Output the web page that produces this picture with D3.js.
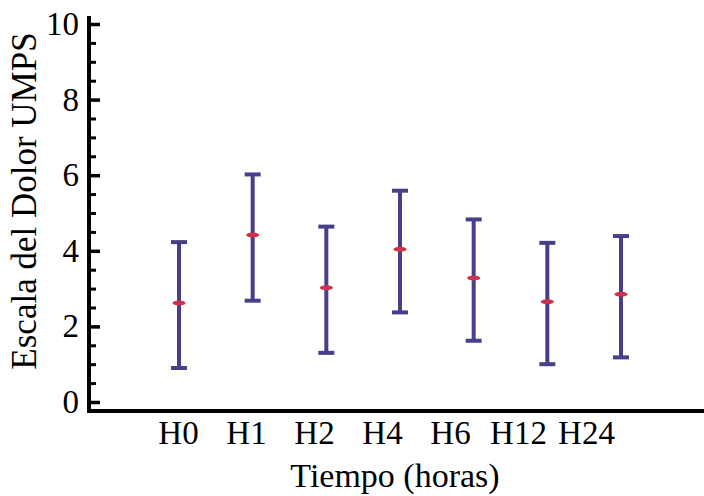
<!DOCTYPE html>
<html lang="es">
<head>
    <meta charset="UTF-8">
    <title>Escala del Dolor UMPS</title>
    <script src="https://d3js.org/d3.v7.min.js"></script>
    <style>
        body {
            margin: 0;
            background: #fff;
        }
        svg {
            display: block;
            font-family: 'Liberation Serif', 'DejaVu Serif', serif;
        }
        .axis path, .axis line {
            stroke: #000;
        }
        .axis text {
            font-family: 'Liberation Serif', 'DejaVu Serif', serif;
            font-size: 33px;
            fill: #000;
        }
    </style>
</head>
<body>
    <svg id="chart" width="704" height="496"></svg>

    <script>
        // Datos
        const tiempos = ['H0', 'H1', 'H2', 'H4', 'H6', 'H12', 'H24'];
        const medias = [2.62, 4.42, 3.02, 4.04, 3.28, 2.65, 2.85];
        const superior = [4.23, 6.02, 4.64, 5.59, 4.83, 4.21, 4.39];
        const inferior = [0.90, 2.68, 1.30, 2.37, 1.62, 1.00, 1.18];
        const yTicks = [0, 2, 4, 6, 8, 10];

        const barColor = '#463f8b';
        const meanColor = '#d0304a';

        const svg = d3.select('#chart');

        const y = d3.scaleLinear().domain([0, 10]).range([402, 24]);
        // posiciones de las barras y de las etiquetas no coinciden en el original
        const xBar = d3.scalePoint().domain(tiempos).range([179, 621]);
        const xLabel = d3.scalePoint().domain(tiempos).range([178, 586]);

        const axisX = 89;
        const axisY = 411;

        // Eje Y: marcas menores
        const minor = d3.range(0, 10.01, 0.5).filter(v => v % 2 !== 0);
        svg.append('g')
            .attr('class', 'axis')
            .attr('transform', `translate(${axisX},0)`)
            .call(d3.axisLeft(y).tickValues(minor).tickSize(-7).tickFormat(''))
            .call(g => g.select('.domain').remove())
            .selectAll('line').attr('stroke-width', 3);

        // Eje Y: marcas mayores
        svg.append('g')
            .attr('class', 'axis')
            .attr('transform', `translate(${axisX},0)`)
            .call(d3.axisLeft(y).tickValues(yTicks).tickSize(-11).tickPadding(10))
            .call(g => g.select('.domain').remove())
            .call(g => g.selectAll('line').attr('stroke-width', 3.5));

        svg.append('line')
            .attr('x1', axisX).attr('x2', axisX)
            .attr('y1', y(10.21)).attr('y2', axisY + 2)
            .attr('stroke', '#000').attr('stroke-width', 4);

        // Eje X
        svg.append('line')
            .attr('x1', axisX - 2).attr('x2', 704)
            .attr('y1', axisY).attr('y2', axisY)
            .attr('stroke', '#000').attr('stroke-width', 4);

        svg.append('g')
            .attr('class', 'axis')
            .attr('transform', `translate(0,${axisY})`)
            .call(d3.axisBottom(xLabel).tickSize(0).tickPadding(10))
            .call(g => g.select('.domain').remove())
            .selectAll('text').attr('dy', '0.71em');

        // Títulos
        svg.append('text')
            .attr('x', 395)
            .attr('y', 487)
            .attr('text-anchor', 'middle')
            .style('font-size', '34px')
            .text('Tiempo (horas)');

        svg.append('text')
            .attr('transform', 'translate(36,201) rotate(-90)')
            .attr('text-anchor', 'middle')
            .style('font-size', '35px')
            .text('Escala del Dolor UMPS');

        // Barras de error
        const data = tiempos.map((t, i) => ({
            t, media: medias[i], sup: superior[i], inf: inferior[i]
        }));

        const g = svg.append('g');

        g.selectAll('.bar')
            .data(data)
            .enter()
            .append('line')
            .attr('x1', d => xBar(d.t)).attr('x2', d => xBar(d.t))
            .attr('y1', d => y(d.sup)).attr('y2', d => y(d.inf))
            .attr('stroke', barColor).attr('stroke-width', 4);

        ['sup', 'inf'].forEach(k => {
            g.selectAll('.cap-' + k)
                .data(data)
                .enter()
                .append('line')
                .attr('x1', d => xBar(d.t) - 8).attr('x2', d => xBar(d.t) + 8)
                .attr('y1', d => y(d[k])).attr('y2', d => y(d[k]))
                .attr('stroke', barColor).attr('stroke-width', 4);
        });

        g.selectAll('.media')
            .data(data)
            .enter()
            .append('ellipse')
            .attr('cx', d => xBar(d.t))
            .attr('cy', d => y(d.media))
            .attr('rx', 6.5).attr('ry', 2.5)
            .attr('fill', meanColor);
    </script>
</body>
</html>
